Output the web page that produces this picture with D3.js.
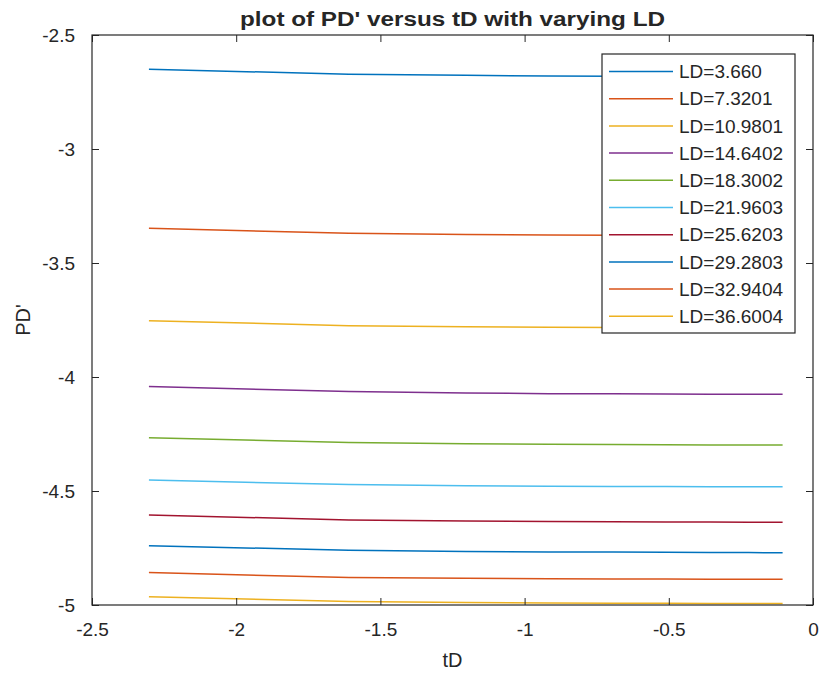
<!DOCTYPE html>
<html>
<head>
<meta charset="utf-8">
<script src="https://cdn.jsdelivr.net/npm/d3@7"></script>
<style>
  html, body { margin: 0; padding: 0; background: #fff; }
  svg { display: block; }
  text { font-family: "Liberation Sans", Arial, Helvetica, sans-serif; fill: #262626; }
</style>
</head>
<body>
<svg id="chart" width="822" height="682"></svg>
<script>
// Time axis values tD (log of dimensionless time)
const tD = [-2.3026, -1.6094, -1.2040, -0.9163, -0.6931, -0.5108, -0.3567, -0.2231, -0.1054];

// Dimensionless lengths, one curve each
const LD = ["3.660", "7.3201", "10.9801", "14.6402", "18.3002", "21.9603", "25.6203", "29.2803", "32.9404", "36.6004"];

// PD' for each LD at the tD values above
const pd1  = [-2.650, -2.672, -2.677, -2.680, -2.681, -2.682, -2.682, -2.683, -2.683];
const pd2  = [-3.348, -3.370, -3.375, -3.377, -3.378, -3.379, -3.379, -3.380, -3.380];
const pd3  = [-3.753, -3.775, -3.780, -3.782, -3.783, -3.784, -3.784, -3.784, -3.784];
const pd4  = [-4.042, -4.064, -4.070, -4.073, -4.074, -4.075, -4.076, -4.076, -4.076];
const pd5  = [-4.266, -4.287, -4.293, -4.295, -4.296, -4.297, -4.298, -4.298, -4.298];
const pd6  = [-4.452, -4.472, -4.477, -4.479, -4.480, -4.480, -4.481, -4.481, -4.481];
const pd7  = [-4.605, -4.627, -4.632, -4.634, -4.635, -4.636, -4.636, -4.637, -4.637];
const pd8  = [-4.740, -4.760, -4.765, -4.767, -4.768, -4.769, -4.770, -4.770, -4.771];
const pd9  = [-4.858, -4.879, -4.883, -4.885, -4.886, -4.886, -4.887, -4.887, -4.887];
const pd10 = [-4.964, -4.985, -4.989, -4.991, -4.992, -4.992, -4.993, -4.993, -4.993];
const seriesValues = [pd1, pd2, pd3, pd4, pd5, pd6, pd7, pd8, pd9, pd10];

const xTicks = [-2.5, -2, -1.5, -1, -0.5, 0];
const yTicks = [-5, -4.5, -4, -3.5, -3, -2.5];

// Default line colour order, cycling after seven
const palette = ["#0072BD", "#D95319", "#EDB120", "#7E2F8E", "#77AC30", "#4DBEEE", "#A2142F"];

const svg = d3.select("#chart");
const box = { left: 92, top: 35, right: 813, bottom: 605 };
const axisColor = "#262626";
const tickLen = 7;

const x = d3.scaleLinear().domain([-2.5, 0]).range([box.left, box.right]);
const y = d3.scaleLinear().domain([-5, -2.5]).range([box.bottom, box.top]);

const series = LD.map((ld, i) => ({
  label: "LD=" + ld,
  color: palette[i % palette.length],
  points: tD.map((t, j) => ({ t, v: seriesValues[i][j] }))
}));

// Plot lines
const line = d3.line().x(d => x(d.t)).y(d => y(d.v));
svg.append("g").selectAll("path")
  .data(series)
  .join("path")
  .attr("d", d => line(d.points))
  .attr("fill", "none")
  .attr("stroke", d => d.color)
  .attr("stroke-width", 1.5);

// Axes with inward ticks on all four sides; labels use a plain hyphen-minus
const fmt = d => String(d);
const bottomAxis = d3.axisBottom(x).tickValues(xTicks).tickSizeInner(-tickLen).tickSizeOuter(0).tickPadding(18).tickFormat(fmt);
const topAxis = d3.axisTop(x).tickValues(xTicks).tickSizeInner(-tickLen).tickSizeOuter(0).tickFormat("");
const leftAxis = d3.axisLeft(y).tickValues(yTicks).tickSizeInner(-tickLen).tickSizeOuter(0).tickPadding(17).tickFormat(fmt);
const rightAxis = d3.axisRight(y).tickValues(yTicks).tickSizeInner(-tickLen).tickSizeOuter(0).tickFormat("");

function styleAxis(g) {
  g.select(".domain").remove();
  g.selectAll(".tick line").attr("stroke", axisColor).attr("stroke-width", 1);
  g.selectAll(".tick text").attr("fill", axisColor).style("font-size", "19px").attr("font-family", null);
}

svg.append("g").attr("transform", `translate(0,${box.bottom})`).call(bottomAxis).call(styleAxis);
svg.append("g").attr("transform", `translate(0,${box.top})`).call(topAxis).call(styleAxis);
svg.append("g").attr("transform", `translate(${box.left},0)`).call(leftAxis).call(styleAxis);
svg.append("g").attr("transform", `translate(${box.right},0)`).call(rightAxis).call(styleAxis);

// Axes frame
svg.append("rect")
  .attr("x", box.left).attr("y", box.top)
  .attr("width", box.right - box.left).attr("height", box.bottom - box.top)
  .attr("fill", "none").attr("stroke", axisColor).attr("stroke-width", 1.2);

// Title and axis labels
svg.append("text")
  .attr("x", (box.left + box.right) / 2).attr("y", 26)
  .attr("text-anchor", "middle")
  .style("font-size", "20px").style("font-weight", "bold")
  .attr("textLength", 425).attr("lengthAdjust", "spacingAndGlyphs")
  .text("plot of PD' versus tD with varying LD");

svg.append("text")
  .attr("x", (box.left + box.right) / 2).attr("y", 667)
  .attr("text-anchor", "middle")
  .style("font-size", "20px")
  .text("tD");

svg.append("text")
  .attr("transform", `translate(30,${(box.top + box.bottom) / 2}) rotate(-90)`)
  .attr("text-anchor", "middle")
  .style("font-size", "20px")
  .text("PD'");

// Legend
const lg = { x: 602, y: 54, w: 193, h: 279, rowStart: 71.5, rowStep: 27.2 };
const legend = svg.append("g");
legend.append("rect")
  .attr("x", lg.x).attr("y", lg.y).attr("width", lg.w).attr("height", lg.h)
  .attr("fill", "#fff").attr("stroke", axisColor).attr("stroke-width", 1.2);
const rows = legend.selectAll("g.row").data(series).join("g")
  .attr("class", "row")
  .attr("transform", (d, i) => `translate(0,${lg.rowStart + i * lg.rowStep})`);
rows.append("line")
  .attr("x1", 609).attr("x2", 673).attr("y1", 0).attr("y2", 0)
  .attr("stroke", d => d.color).attr("stroke-width", 1.5);
rows.append("text")
  .attr("x", 679).attr("y", 0).attr("dy", "0.35em")
  .style("font-size", "19px")
  .text(d => d.label);
</script>
</body>
</html>
